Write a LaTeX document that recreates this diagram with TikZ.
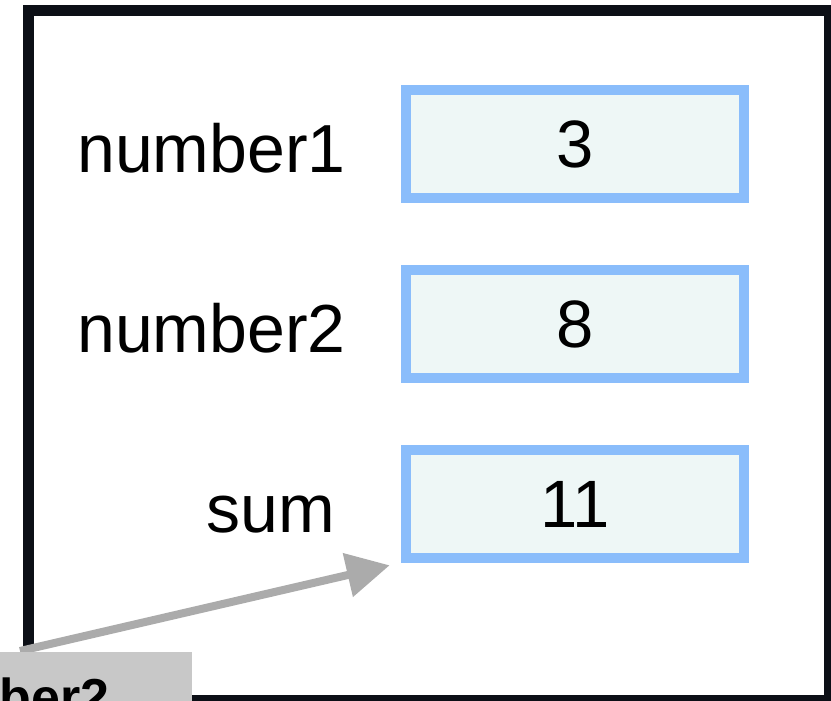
\documentclass[tikz,border=0pt]{standalone}
\usepackage{fontspec}
\setmainfont{Liberation Sans}
\usetikzlibrary{arrows.meta}
\definecolor{framecol}{HTML}{0C0F16}
\definecolor{cellborder}{HTML}{8ABDFB}
\definecolor{cellfill}{HTML}{EEF7F6}
\definecolor{arrowgray}{HTML}{ABABAB}
\definecolor{calloutgray}{HTML}{C8C8C8}
\tikzset{
  cell/.style={draw=cellborder, fill=cellfill, line width=10pt,
    minimum width=338.6pt, minimum height=108pt, inner sep=0pt,
    font=\fontsize{67}{70}\selectfont, text depth=0pt},
  varname/.style={anchor=base west, inner sep=0pt,
    font=\fontsize{68}{72}\selectfont},
  pointer/.style={draw=arrowgray, line width=8pt,
    -{Triangle[length=43pt, width=43pt]}},
}
\begin{document}
\begin{tikzpicture}[x=1pt, y=-1pt]
  \useasboundingbox (0,0) rectangle (831,701);
  \clip (0,0) rectangle (831,701);
  \fill[white] (0,0) rectangle (831,701);

  % frame of the memory area
  \draw[framecol, line width=11pt] (28.5,11) rectangle (829,700.5);

  % variable cells
  \node[cell] (c1) at (575,144.3) {3};
  \node[cell] (c2) at (575,324.3) {8};
  \node[cell] (c3) at (575,504.3) {11};

  % variable names
  \node[varname] (n1) at (77,172) {number1};
  \node[varname] (n2) at (77,352) {number2};
  \node[varname] (n3) at (206,532) {sum};

  % pointer into the sum cell
  \coordinate (tail) at (20,651);
  \coordinate (head) at ([shift={(-11,2)}]c3.south west);
  \draw[pointer] (tail) -- (head);

  % callout label, partly outside the view
  \node[fill=calloutgray, anchor=north west, minimum width=192pt,
        minimum height=70pt, inner sep=0pt] (callout) at (0,652) {};
  \node[anchor=base east, inner sep=0pt,
        font=\bfseries\fontsize{52}{56}\selectfont] (calltext) at (110,715) {number2};
\end{tikzpicture}
\end{document}
